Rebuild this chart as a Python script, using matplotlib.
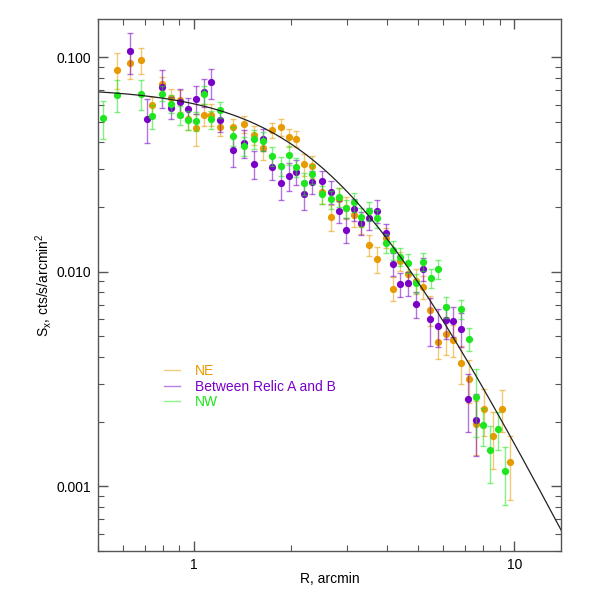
import numpy as np
import matplotlib
matplotlib.use("Agg")
import matplotlib.pyplot as plt
from matplotlib.ticker import FuncFormatter, LogLocator, FixedLocator, NullFormatter
from matplotlib.lines import Line2D

# surface brightness profiles (R in arcmin, S_x in cts/s/arcmin^2, fractional errors)
r_ne = [0.575, 0.629, 0.684, 0.740, 0.796, 0.849, 0.904, 0.956, 1.015, 1.072,
        1.128, 1.206, 1.318, 1.427, 1.533, 1.64, 1.754, 1.87, 1.973, 2.086,
        2.198, 2.335, 2.503, 2.666, 2.83, 2.985, 3.153, 3.325, 3.512, 3.731,
        3.962, 4.176, 4.405, 4.653, 4.917, 5.196, 5.466, 5.776, 6.105, 6.436,
        6.8, 7.19, 7.58, 8.03, 8.56, 9.12, 9.70]
s_ne = [0.0874, 0.0942, 0.0972, 0.0596, 0.0752, 0.0647, 0.0629, 0.0517, 0.0465, 0.054,
        0.054, 0.0471, 0.047, 0.0487, 0.0434, 0.0375, 0.0455, 0.0472, 0.0422, 0.0417,
        0.0316, 0.0310, 0.0236, 0.018, 0.0219, 0.0199, 0.0184, 0.0166, 0.0133, 0.01146,
        0.0144, 0.00834, 0.01122, 0.00976, 0.00908, 0.00851, 0.00664, 0.0047, 0.0051, 0.00481,
        0.00375, 0.00316, 0.00194, 0.00228, 0.00171, 0.0023, 0.00129]
e_ne = [0.19, 0.16, 0.14, 0.09, 0.07, 0.10, 0.12, 0.12, 0.17, 0.12,
        0.12, 0.09, 0.10, 0.09, 0.10, 0.12, 0.08, 0.09, 0.10, 0.09,
        0.12, 0.12, 0.12, 0.14, 0.12, 0.12, 0.12, 0.10, 0.11, 0.14,
        0.11, 0.13, 0.10, 0.12, 0.13, 0.12, 0.16, 0.17, 0.20, 0.17,
        0.20, 0.23, 0.28, 0.25, 0.30, 0.22, 0.33]

r_ab = [0.629, 0.714, 0.796, 0.849, 0.904, 0.956, 1.015, 1.072, 1.128, 1.206,
        1.318, 1.427, 1.533, 1.64, 1.754, 1.87, 1.973, 2.086, 2.198, 2.335,
        2.503, 2.666, 2.83, 2.985, 3.153, 3.325, 3.512, 3.731, 3.962, 4.176,
        4.405, 4.653, 4.917, 5.196, 5.466, 5.776, 6.105, 6.436, 6.8, 7.17, 7.58]
s_ab = [0.1066, 0.0517, 0.0725, 0.0582, 0.0618, 0.0575, 0.064, 0.0687, 0.0762, 0.0508,
        0.037, 0.0398, 0.0317, 0.0413, 0.0308, 0.026, 0.028, 0.0292, 0.0229, 0.0262,
        0.0264, 0.0236, 0.0191, 0.0157, 0.0195, 0.0169, 0.0177, 0.0192, 0.0152, 0.01086,
        0.00874, 0.00883, 0.00708, 0.0103, 0.00603, 0.00559, 0.00594, 0.0059, 0.00541, 0.00256, 0.00204]
e_ab = [0.22, 0.23, 0.20, 0.12, 0.15, 0.12, 0.15, 0.15, 0.16, 0.12,
        0.17, 0.15, 0.15, 0.12, 0.13, 0.17, 0.15, 0.13, 0.15, 0.12,
        0.12, 0.12, 0.12, 0.13, 0.12, 0.12, 0.12, 0.12, 0.10, 0.12,
        0.13, 0.13, 0.14, 0.12, 0.25, 0.20, 0.18, 0.16, 0.18, 0.30, 0.32]

r_nw = [0.519, 0.575, 0.684, 0.740, 0.796, 0.849, 0.904, 0.956, 1.015, 1.072,
        1.128, 1.206, 1.318, 1.427, 1.533, 1.64, 1.754, 1.87, 1.973, 2.086,
        2.198, 2.335, 2.503, 2.666, 2.83, 2.985, 3.153, 3.325, 3.512, 3.731,
        3.962, 4.176, 4.405, 4.653, 4.917, 5.196, 5.479, 5.776, 6.105, 6.8,
        7.19, 7.58, 8.0, 8.4, 8.86, 9.36]
s_nw = [0.052, 0.0668, 0.0673, 0.0532, 0.0676, 0.0607, 0.0536, 0.0508, 0.0502, 0.067,
        0.0512, 0.0569, 0.0428, 0.0385, 0.0414, 0.0407, 0.0345, 0.031, 0.0349, 0.0308,
        0.0258, 0.0285, 0.0229, 0.0217, 0.0223, 0.0197, 0.0211, 0.018, 0.0192, 0.0177,
        0.01355, 0.01262, 0.01175, 0.0110, 0.00883, 0.01114, 0.0093, 0.01026, 0.00683, 0.00668,
        0.00485, 0.0026, 0.00192, 0.00147, 0.00185, 0.00117]
e_nw = [0.20, 0.17, 0.16, 0.13, 0.08, 0.10, 0.10, 0.10, 0.10, 0.10,
        0.10, 0.09, 0.10, 0.10, 0.10, 0.10, 0.10, 0.10, 0.10, 0.10,
        0.12, 0.10, 0.10, 0.10, 0.10, 0.10, 0.10, 0.10, 0.10, 0.10,
        0.10, 0.10, 0.10, 0.10, 0.10, 0.10, 0.10, 0.10, 0.11, 0.10,
        0.12, 0.35, 0.20, 0.30, 0.20, 0.30]

# beta-model fit
S0 = 0.0721
RC = 2.8
BETA = 0.653

C_NE = "#E89B00"
C_AB = "#7A00C8"
C_NW = "#1EE61E"

plt.rcParams["font.family"] = ["Liberation Sans", "DejaVu Sans"]
plt.rcParams["mathtext.default"] = "regular"

fig = plt.figure(figsize=(5.91, 5.91), dpi=100)
ax = fig.add_axes([0.1653, 0.0682, 0.7844, 0.8991])

series = [(r_ne, s_ne, e_ne, C_NE, "NE"),
          (r_ab, s_ab, e_ab, C_AB, "Between Relic A and B"),
          (r_nw, s_nw, e_nw, C_NW, "NW")]
for r, s, e, c, lab in series:
    r = np.asarray(r)
    s = np.asarray(s)
    err = s * np.asarray(e)
    ax.errorbar(r, s, yerr=err, fmt="none", ecolor=c, alpha=0.55,
                elinewidth=1.0, capsize=2.5, capthick=1.0)
    ax.plot(r, s, "o", color=c, ms=5.2, mec="none")

rr = np.logspace(np.log10(0.5), np.log10(14), 300)
ax.plot(rr, S0 * (1 + (rr / RC) ** 2) ** (-3 * BETA + 0.5), color="#222222", lw=0.9)

ax.set_xscale("log")
ax.set_yscale("log")
ax.set_xlim(0.5, 14)
ax.set_ylim(0.0005, 0.15)

ax.xaxis.set_major_locator(FixedLocator([1, 10]))
ax.xaxis.set_major_formatter(FuncFormatter(lambda v, p: f"{v:g}"))
ax.xaxis.set_minor_locator(LogLocator(base=10, subs=np.arange(2, 10)))
ax.xaxis.set_minor_formatter(NullFormatter())
ax.yaxis.set_major_locator(FixedLocator([0.001, 0.01, 0.1]))
ax.yaxis.set_major_formatter(FuncFormatter(lambda v, p: f"{v:.3f}"))
ax.yaxis.set_minor_locator(LogLocator(base=10, subs=np.arange(2, 10)))
ax.yaxis.set_minor_formatter(NullFormatter())

for sp in ax.spines.values():
    sp.set_color("#555555")
    sp.set_linewidth(1.0)
ax.tick_params(which="both", direction="in", top=True, right=True,
               colors="#555555", labelcolor="black", labelsize=10)
ax.tick_params(which="major", length=7, width=1.0, pad=5)
ax.tick_params(which="minor", length=4, width=0.8)

ax.set_xlabel("R, arcmin", fontsize=10, labelpad=0)
ax.set_ylabel("S$_x$, cts/s/arcmin$^2$", fontsize=10, labelpad=1.5)

handles = [Line2D([], [], color=c, lw=1.0, alpha=0.5) for _, _, _, c, _ in series]
leg = ax.legend(handles, [lab for *_, lab in series], loc="upper left",
                bbox_to_anchor=(0.143, 0.351), frameon=False, fontsize=10,
                borderpad=0, borderaxespad=0, handlelength=1.15,
                handletextpad=1.1, labelspacing=0.1)
for txt, (_, _, _, c, _) in zip(leg.get_texts(), series):
    txt.set_color(c)

fig.savefig("out.png", dpi=100)
